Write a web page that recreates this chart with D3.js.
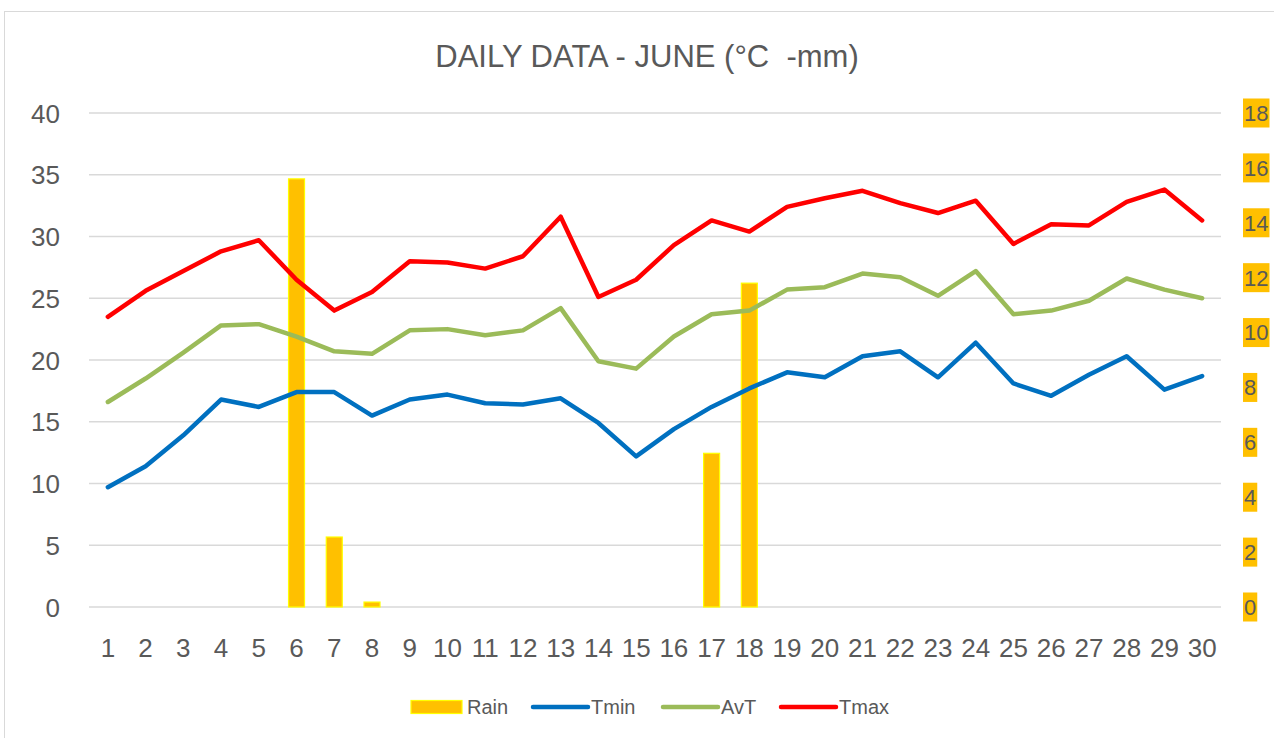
<!DOCTYPE html>
<html>
<head>
<meta charset="utf-8">
<script src="https://cdn.jsdelivr.net/npm/d3@7"></script>
<style>
  body { margin: 0; background: #fff; }
  text { font-family: "Liberation Sans", sans-serif; fill: #595959; }
</style>
</head>
<body>
<svg id="chart" width="1274" height="738"></svg>
<script>
// day numbers 1..30
var days = d3.range(1, 31);

var rain = [0, 0, 0, 0, 0, 15.6, 2.55, 0.18, 0, 0, 0, 0, 0, 0, 0, 0, 5.6, 11.8, 0, 0, 0, 0, 0, 0, 0, 0, 0, 0, 0, 0];

var tmin = [9.7, 11.4, 13.9, 16.8, 16.2, 17.4, 17.4, 15.5, 16.8, 17.2, 16.5, 16.4, 16.9, 14.9, 12.2,
            14.4, 16.2, 17.7, 19.0, 18.6, 20.3, 20.7, 18.6, 21.4, 18.1, 17.1, 18.8, 20.3, 17.6, 18.7];

var avt = [16.6, 18.5, 20.6, 22.8, 22.9, 21.9, 20.7, 20.5, 22.4, 22.5, 22.0, 22.4, 24.2, 19.9, 19.3,
           21.9, 23.7, 24.0, 25.7, 25.9, 27.0, 26.7, 25.2, 27.2, 23.7, 24.0, 24.8, 26.6, 25.7, 25.0];

var tmax = [23.5, 25.6, 27.2, 28.8, 29.7, 26.5, 24.0, 25.5, 28.0, 27.9, 27.4, 28.4, 31.6, 25.1, 26.5,
            29.3, 31.3, 30.4, 32.4, 33.1, 33.7, 32.7, 31.9, 32.9, 29.4, 31.0, 30.9, 32.8, 33.8, 31.3];

var leftTicks = [0, 5, 10, 15, 20, 25, 30, 35, 40];
var rightTicks = [0, 2, 4, 6, 8, 10, 12, 14, 16, 18];

var series = [
  { name: 'Tmin', values: tmin, color: '#0070C0' },
  { name: 'AvT', values: avt, color: '#9BBB59' },
  { name: 'Tmax', values: tmax, color: '#FF0000' }
];

var svg = d3.select('#chart');

// outer chart border
svg.append('rect')
  .attr('x', 4.5).attr('y', 11.5)
  .attr('width', 1290).attr('height', 760)
  .attr('fill', '#fff')
  .attr('stroke', '#d9d9d9');

var plot = { left: 89, right: 1221, top: 113, bottom: 607 };

var x = d3.scaleBand()
  .domain(days)
  .range([plot.left, plot.right]);

var yT = d3.scaleLinear().domain([0, 40]).range([plot.bottom, plot.top]);
var yR = d3.scaleLinear().domain([0, 18]).range([plot.bottom, plot.top]);

// title (keep the double space)
svg.append('text')
  .attr('x', 647).attr('y', 67)
  .attr('text-anchor', 'middle')
  .attr('font-size', 31)
  .style('white-space', 'pre')
  .text('DAILY DATA - JUNE (°C  -mm)');

// gridlines
svg.append('g').selectAll('line')
  .data(leftTicks)
  .join('line')
  .attr('x1', plot.left).attr('x2', plot.right)
  .attr('y1', d => yT(d)).attr('y2', d => yT(d))
  .attr('stroke', '#d9d9d9')
  .attr('stroke-width', 1.5);

// left axis
var leftAxis = svg.append('g')
  .attr('transform', 'translate(' + (plot.left - 29) + ',0)')
  .call(d3.axisLeft(yT).tickValues(leftTicks).tickSize(0).tickPadding(0));
leftAxis.select('.domain').remove();
leftAxis.selectAll('text')
  .attr('font-size', 26)
  .attr('dy', '0.35em')
  .style('font-family', '"Liberation Sans", sans-serif')
  .attr('fill', '#595959');

// right axis, labels with yellow boxes
var rightAxis = svg.append('g')
  .attr('transform', 'translate(1243,0)');
var rt = rightAxis.selectAll('g')
  .data(rightTicks)
  .join('g')
  .attr('transform', d => 'translate(0,' + yR(d) + ')');
rt.append('text')
  .attr('x', 1)
  .attr('dy', '0.36em')
  .attr('font-size', 22)
  .text(d => d)
  .each(function () {
    var bb = this.getBBox();
    d3.select(this.parentNode).insert('rect', 'text')
      .attr('x', 0).attr('y', -14.5)
      .attr('width', bb.width + 2).attr('height', 29)
      .attr('fill', '#FFC000');
  });

// x axis labels
var xAxis = svg.append('g')
  .attr('transform', 'translate(0,' + (plot.bottom + 27) + ')')
  .call(d3.axisBottom(x).tickSize(0).tickPadding(0));
xAxis.select('.domain').remove();
xAxis.selectAll('text')
  .attr('font-size', 26)
  .attr('dy', '0.9em')
  .style('font-family', '"Liberation Sans", sans-serif')
  .attr('fill', '#595959');

// rain bars
var barW = 16;
svg.append('g').selectAll('rect')
  .data(rain.map((v, i) => ({ day: days[i], v: v })).filter(d => d.v > 0))
  .join('rect')
  .attr('x', d => x(d.day) + x.bandwidth() / 2 - barW / 2)
  .attr('y', d => yR(d.v))
  .attr('width', barW)
  .attr('height', d => plot.bottom - yR(d.v))
  .attr('fill', '#FFC000')
  .attr('stroke', '#FFFF00')
  .attr('stroke-width', 1.2);

// temperature lines
var line = d3.line()
  .x((d, i) => x(days[i]) + x.bandwidth() / 2)
  .y(d => yT(d));

svg.append('g').selectAll('path')
  .data(series)
  .join('path')
  .attr('d', d => line(d.values))
  .attr('fill', 'none')
  .attr('stroke', d => d.color)
  .attr('stroke-width', 4.5)
  .attr('stroke-linejoin', 'round')
  .attr('stroke-linecap', 'round');

// legend
var legend = svg.append('g').attr('transform', 'translate(0,707)');
legend.append('rect')
  .attr('x', 411).attr('y', -6.5)
  .attr('width', 51).attr('height', 13)
  .attr('fill', '#FFC000')
  .attr('stroke', '#FFFF00')
  .attr('stroke-width', 1.2);
legend.append('text')
  .attr('x', 467).attr('dy', '0.35em')
  .attr('font-size', 20)
  .text('Rain');

var legendX = [533, 663, 781];
series.forEach(function (s, i) {
  legend.append('line')
    .attr('x1', legendX[i]).attr('x2', legendX[i] + 55)
    .attr('y1', 0).attr('y2', 0)
    .attr('stroke', s.color)
    .attr('stroke-width', 4.5)
    .attr('stroke-linecap', 'round');
  legend.append('text')
    .attr('x', legendX[i] + 58).attr('dy', '0.35em')
    .attr('font-size', 20)
    .text(s.name);
});
</script>
</body>
</html>
